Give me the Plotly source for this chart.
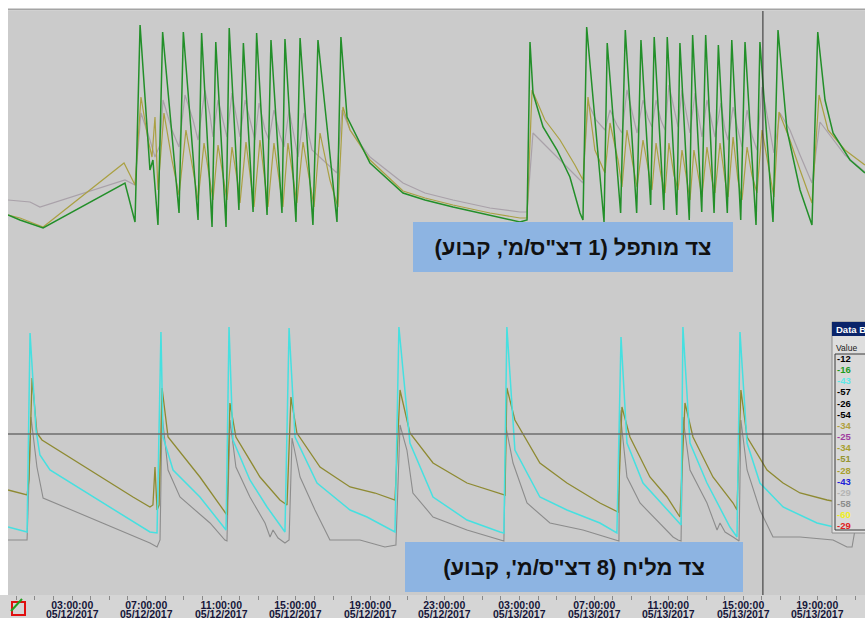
import pandas as pd
import plotly.graph_objects as go

BASE = pd.Timestamp("2017-05-12 00:00")

# ---------------- data (hours since 05/12/2017 00:00, values in panel units) -------------
TOP_GREEN_H = [-0.43, 0.21, 1.45, 5.84, 6.38, 6.65, 7.18, 7.34, 7.61, 7.86, 8.74, 8.97, 9.76, 9.95, 10.51, 10.71,
               11.26, 11.43, 11.95, 12.19, 12.71, 12.90, 13.46, 13.67, 14.26, 14.42, 15.01, 15.23, 15.92, 16.19,
               17.21, 17.42, 17.75, 18.98, 20.75, 21.93, 23.43, 25.41, 27.02, 27.40, 27.56, 27.72, 28.26, 29.01,
               29.70, 30.24, 30.40, 30.60, 31.53, 31.70, 32.42, 32.67, 33.28, 33.51, 34.03, 34.22, 34.74, 34.92,
               35.43, 35.60, 36.10, 36.28, 36.77, 36.98, 37.43, 37.66, 38.14, 38.38, 38.86, 39.09, 39.68, 39.89,
               40.59, 40.86, 41.34, 42.04, 42.68, 42.99, 43.38, 43.81, 44.72, 45.52]
TOP_GREEN_V = [12.5, 10, 6, 28.5, 9, 107.5, 35, 40, 7.5, 104, 13.5, 104, 10, 103.5, 6.5, 99,
               6.5, 106, 15, 98.5, 14, 103.5, 12.5, 100, 13.5, 100.5, 9, 101, 7.5, 100,
               9, 101.5, 61.5, 38.5, 23.5, 20, 16.5, 12.5, 9, 10, 99, 73.5, 56.5, 45,
               31.5, 13.5, 10, 106.5, 9, 98.5, 13.5, 105, 13.5, 100, 17.5, 101.5, 15, 101.5,
               12.5, 98.5, 10, 102.5, 14, 102.5, 13.5, 97.5, 13.5, 100, 10, 99, 7.5, 99,
               9, 105, 55, 25, 7.5, 104, 70, 53.5, 40, 33.5]

TOP_OLIVE_H = [-0.43, 0.21, 1.45, 5.79, 6.38, 6.70, 7.08, 7.29, 7.45, 7.61,
               7.93, 8.36, 8.74, 9.11, 9.49, 9.76, 10.08, 10.40, 10.56, 10.83,
               11.15, 11.31, 11.58, 11.90, 12.01, 12.33, 12.65, 12.76, 13.08, 13.35,
               13.51, 13.83, 14.15, 14.31, 14.58, 14.90, 15.06, 15.39, 15.76, 15.98,
               16.30, 16.83, 17.26, 17.53, 17.91, 18.98, 20.75, 21.93, 23.43, 25.41,
               27.02, 27.40, 27.67, 28.36, 29.17, 29.97, 30.40, 30.67, 31.04, 31.58,
               31.85, 32.28, 32.49, 32.76, 33.08, 33.30, 33.62, 33.89, 34.10, 34.32,
               34.58, 34.80, 35.01, 35.28, 35.50, 35.71, 35.98, 36.14, 36.35, 36.62,
               36.78, 37.05, 37.32, 37.48, 37.75, 38.02, 38.18, 38.45, 38.71, 38.93,
               39.20, 39.46, 39.73, 40.00, 40.32, 40.64, 40.91, 41.50, 42.04, 42.68,
               43.06, 43.54, 44.45, 45.52]
TOP_OLIVE_V = [12.5, 11, 6.5, 38.5, 27.5, 71.5, 50, 41.5, 61.5, 25,
               63.5, 40, 22.5, 55, 35, 20, 48.5, 30, 20, 47.5,
               27.5, 20, 46.5, 27.5, 18.5, 49, 25, 16.5, 50, 27.5,
               16.5, 48.5, 27.5, 16.5, 48.5, 27.5, 18.5, 49, 27.5, 16.5,
               53.5, 30, 16.5, 66.5, 55, 40, 24.5, 21, 17.5, 13.5,
               11, 11, 75, 60, 50, 37.5, 30, 71.5, 45, 33.5,
               58.5, 40, 26.5, 55, 37.5, 26.5, 50, 35, 25, 48.5,
               32.5, 23.5, 48.5, 32.5, 25, 45, 30, 20, 45, 30,
               21.5, 46.5, 30, 23.5, 48.5, 30, 21.5, 51.5, 30, 20,
               46.5, 32.5, 23.5, 55, 37.5, 21.5, 64, 50, 35, 18.5,
               72.5, 55, 45, 37.5]

TOP_GRAY_H = [-0.43, 0.75, 1.28, 5.84, 6.38, 6.70, 7.18, 7.45, 7.72, 7.88,
              8.36, 8.74, 9.06, 9.49, 9.76, 10.13, 10.40, 10.56, 10.83, 11.15,
              11.31, 11.58, 11.90, 12.01, 12.28, 12.65, 12.81, 13.03, 13.35, 13.56,
              13.83, 14.15, 14.37, 14.64, 14.96, 15.12, 15.44, 15.87, 17.21, 17.48,
              17.91, 18.98, 20.75, 21.93, 23.43, 25.41, 27.02, 27.40, 27.72, 28.36,
              29.17, 29.97, 30.40, 30.67, 31.10, 31.58, 31.85, 32.22, 32.49, 32.76,
              33.08, 33.30, 33.62, 33.89, 34.10, 34.32, 34.58, 34.80, 35.01, 35.28,
              35.50, 35.71, 35.98, 36.14, 36.41, 36.62, 36.78, 37.05, 37.32, 37.48,
              37.80, 38.02, 38.18, 38.45, 38.71, 38.93, 39.20, 39.46, 39.73, 40.00,
              40.32, 40.64, 40.97, 41.50, 42.04, 42.68, 43.11, 43.65, 44.45, 45.52]
TOP_GRAY_V = [20, 19, 16.5, 30, 27.5, 63.5, 50, 41.5, 47.5, 70,
              55, 46.5, 72.5, 60, 50, 75, 62.5, 51.5, 70, 57.5,
              51.5, 73.5, 57.5, 51.5, 70, 55, 50, 68.5, 55, 50,
              65, 52.5, 46.5, 65, 50, 41.5, 63.5, 45, 33.5, 65,
              55, 41.5, 28.5, 23.5, 20, 16, 14, 14, 53.5, 47.5,
              40, 32.5, 28.5, 68.5, 60, 55, 65, 57.5, 53.5, 75,
              62.5, 53.5, 70, 61, 56.5, 70, 60, 55, 77.5, 65,
              56.5, 75, 62.5, 53.5, 73.5, 60, 51.5, 70, 57.5, 51.5,
              68.5, 55, 50, 66.5, 55, 46.5, 65, 52.5, 45, 76.5,
              60, 43.5, 63.5, 55, 42.5, 28.5, 59, 52.5, 42.5, 34]

BOT_CYAN_H = [-0.43, 0.59, 0.75, 1.07, 1.28, 1.82, 7.18, 7.56, 7.77, 7.88,
              8.42, 9.86, 11.26, 11.42, 11.63, 12.54, 13.46, 14.42, 14.64, 14.96,
              16.14, 17.91, 18.82, 20.32, 20.53, 21.12, 22.36, 24.18, 25.95, 26.16,
              26.32, 26.75, 28.09, 29.54, 31.31, 32.22, 32.44, 32.76, 33.62, 34.91,
              35.66, 35.76, 36.14, 37.05, 38.28, 38.66, 38.82, 39.20, 39.89, 41.13,
              42.95, 44.56, 44.83, 45.15, 45.52]
BOT_CYAN_V = [16.5, 14, 113.5, 65, 52.5, 45, 14, 13.5, 114, 61.5,
              45, 31.5, 15, 116.5, 60, 40, 26.5, 14, 116, 61.5,
              38.5, 25, 21.5, 14, 116.5, 58.5, 31.5, 20, 14, 13.5,
              116.5, 55, 31.5, 25, 18.5, 13.5, 111.5, 58.5, 38.5, 25,
              17.5, 116.5, 58.5, 38.5, 16.5, 11.5, 114, 58.5, 38.5, 26.5,
              18.5, 15, 14, 35, 45]

BOT_OLIVE_H = [-0.43, 0.59, 0.69, 0.86, 1.12, 1.39, 6.27, 7.18, 7.34, 7.45,
               7.56, 7.67, 7.83, 8.15, 9.86, 11.31, 11.47, 11.79, 13.08, 14.15,
               14.53, 14.74, 15.06, 16.30, 17.91, 19.25, 20.32, 20.59, 21.12, 22.36,
               24.18, 25.95, 26.22, 26.32, 26.75, 28.09, 29.54, 31.31, 32.28, 32.49,
               32.92, 33.99, 34.91, 35.60, 35.87, 36.30, 37.37, 38.45, 38.66, 38.87,
               39.20, 40.27, 41.13, 42.04, 43.49, 45.52]
BOT_OLIVE_V = [35, 32.5, 40, 91, 63.5, 60, 31.5, 26.5, 27.5, 46.5,
               25, 27.5, 86, 61.5, 41.5, 22.5, 78.5, 61.5, 41.5, 30,
               27.5, 81.5, 63.5, 46.5, 36.5, 33.5, 30, 85, 63.5, 48.5,
               38.5, 33.5, 32.5, 86, 70, 48.5, 38.5, 28.5, 24, 76.5,
               61.5, 41.5, 31.5, 21.5, 78.5, 61.5, 41.5, 28.5, 25, 85,
               61.5, 45, 38.5, 33.5, 30, 26.5]

BOT_GRAY_H = [-0.43, 0.59, 0.80, 1.12, 1.45, 7.18, 7.56, 7.72, 7.83, 8.15,
              8.79, 10.40, 11.20, 11.31, 11.47, 11.79, 12.54, 13.35, 13.62, 13.78,
              14.05, 14.42, 14.64, 14.80, 15.23, 16.03, 16.83, 18.44, 19.78, 20.37,
              20.59, 20.96, 21.28, 22.36, 24.18, 25.95, 26.16, 26.27, 26.65, 27.40,
              28.63, 30.40, 32.22, 32.33, 32.38, 32.76, 33.46, 34.53, 35.23, 35.50,
              35.66, 35.76, 36.14, 37.05, 37.59, 37.75, 38.02, 38.45, 38.66, 38.77,
              38.87, 39.20, 39.89, 40.59, 42.04, 43.81, 44.56, 44.83, 45.26, 45.52]
BOT_GRAY_V = [10, 10, 71.5, 46.5, 31, 8.5, 6.5, 10, 72.5, 45,
              31.5, 18.5, 10, 9.5, 70, 46.5, 31.5, 18.5, 11.5, 15,
              11, 8.5, 10, 61, 41.5, 25, 10, 10, 6.5, 7.5,
              67.5, 55, 33.5, 21.5, 15, 10, 9.5, 66.5, 48.5, 28.5,
              18.5, 15, 10, 9.5, 75, 41.5, 28.5, 18.5, 11.5, 10,
              9.5, 71.5, 45, 28.5, 15, 18.5, 14, 11.5, 10, 9.5,
              70, 45, 25, 11.5, 11.5, 10, 6.5, 6.5, 30, 37.5]

TICK_H = [3, 7, 11, 15, 19, 23, 27, 31, 35, 39, 43]
TICK_TIME = ["03:00:00", "07:00:00", "11:00:00", "15:00:00", "19:00:00", "23:00:00",
             "03:00:00", "07:00:00", "11:00:00", "15:00:00", "19:00:00"]
TICK_DATE = ["05/12/2017"] * 6 + ["05/13/2017"] * 5

CURSOR_H = 40.05          # vertical cursor time
THRESHOLD_BOT = 63        # horizontal reference line in lower panel
X_RANGE_H = [-0.432, 45.524]

TOP_LABEL = 'צד מותפל (1 דצ"ס/מ\', קבוע)'
BOT_LABEL = 'צד מליח (8 דצ"ס/מ\', קבוע)'

DATA_BOX_VALUES = ["-12", "-16", "-43", "-57", "-26", "-54", "-34", "-25",
                   "-34", "-51", "-28", "-43", "-29", "-58", "-60", "-29"]
DATA_BOX_COLORS = ["#000000", "#1e9a1e", "#5ee8e8", "#000000", "#000000", "#000000",
                   "#b0a040", "#a03ca0", "#a8a030", "#949430", "#a8a030", "#2020d8",
                   "#b4b4b4", "#8c8c8c", "#f0f020", "#e02020"]


def to_time(hours):
    return BASE + pd.to_timedelta(hours, unit="h")


fig = go.Figure()

top_series = [
    (TOP_GRAY_H, TOP_GRAY_V, "#a9a1a9", 1.2),
    (TOP_OLIVE_H, TOP_OLIVE_V, "#aaa042", 1.2),
    (TOP_GREEN_H, TOP_GREEN_V, "#228f29", 1.5),
]
for h, v, c, w in top_series:
    fig.add_trace(go.Scatter(x=to_time(h), y=v, mode="lines", yaxis="y",
                             line=dict(color=c, width=w), hoverinfo="skip", showlegend=False))

bot_series = [
    (BOT_GRAY_H, BOT_GRAY_V, "#8c8c8c", 1.1),
    (BOT_OLIVE_H, BOT_OLIVE_V, "#8e8a32", 1.3),
    (BOT_CYAN_H, BOT_CYAN_V, "#46e0e0", 1.5),
]
for h, v, c, w in bot_series:
    fig.add_trace(go.Scatter(x=to_time(h), y=v, mode="lines", yaxis="y2",
                             line=dict(color=c, width=w), hoverinfo="skip", showlegend=False))

W, H = 865, 618
ML, MR, MT, MB = 8, 0, 11, 23
PW, PH = W - ML - MR, H - MT - MB


def px_x(px):
    return (px - ML) / PW


def px_y(py):
    return (H - MB - py) / PH


shapes = []
# time axis strip
shapes.append(dict(type="rect", xref="paper", yref="paper", x0=px_x(0), x1=1.0,
                   y0=px_y(H + 2), y1=0, fillcolor="#d5d5d5", line=dict(width=0), layer="below"))
# top border line
shapes.append(dict(type="line", xref="paper", yref="paper", x0=0, x1=1,
                   y0=px_y(9.5), y1=px_y(9.5), line=dict(color="#a4a4a4", width=2)))
# horizontal reference line (lower panel)
shapes.append(dict(type="line", xref="paper", yref="y2", x0=0, x1=1,
                   y0=THRESHOLD_BOT, y1=THRESHOLD_BOT, line=dict(color="#6e6e6e", width=1.3)))
# cursor
shapes.append(dict(type="line", xref="x", yref="paper", x0=to_time(CURSOR_H), x1=to_time(CURSOR_H),
                   y0=0, y1=1, line=dict(color="#2a2a2a", width=1)))
# data box window
shapes.append(dict(type="rect", xref="paper", yref="paper", x0=px_x(832), x1=px_x(872),
                   y0=px_y(533), y1=px_y(322), fillcolor="#dedede", line=dict(color="#8c8c8c", width=1)))
shapes.append(dict(type="rect", xref="paper", yref="paper", x0=px_x(832), x1=px_x(872),
                   y0=px_y(336), y1=px_y(322), fillcolor="#0a246a", line=dict(width=0)))
shapes.append(dict(type="rect", xref="paper", yref="paper", x0=px_x(835), x1=px_x(872),
                   y0=px_y(530), y1=px_y(354), fillcolor="#d9d9d9", line=dict(color="#3a3a3a", width=1)))
# small status icon at bottom-left
shapes.append(dict(type="rect", xref="paper", yref="paper", x0=px_x(12), x1=px_x(25),
                   y0=px_y(615), y1=px_y(602), fillcolor="rgba(0,0,0,0)", line=dict(color="#e01010", width=2)))
shapes.append(dict(type="line", xref="paper", yref="paper", x0=px_x(11), x1=px_x(22),
                   y0=px_y(611), y1=px_y(599), line=dict(color="#20a020", width=2)))

annotations = []
tick_font = dict(family="Liberation Sans, Arial, sans-serif", size=7.2, color="#16163a")
span = "<span style='font-size:10.5px'><b>%s</b></span>"
for h, t1, t2 in zip(TICK_H, TICK_TIME, TICK_DATE):
    annotations.append(dict(x=to_time(h), xref="x", y=px_y(596.5), yref="paper",
                            text=(span % t1) + "<br>" + (span % t2), showarrow=False,
                            xanchor="center", yanchor="top", font=tick_font))

label_font = dict(family="Liberation Sans, Arial, sans-serif", size=22, color="#111111")
annotations.append(dict(x=px_x(573), y=px_y(247), xref="paper", yref="paper",
                        text="<b>\u202b" + TOP_LABEL + "\u202c</b>", showarrow=False,
                        width=320, height=50, bgcolor="#8db4e2", borderpad=0, borderwidth=0,
                        xanchor="center", yanchor="middle", font=label_font))
annotations.append(dict(x=px_x(574), y=px_y(567), xref="paper", yref="paper",
                        text="<b>\u202b" + BOT_LABEL + "\u202c</b>", showarrow=False,
                        width=338, height=50, bgcolor="#8db4e2", borderpad=0, borderwidth=0,
                        xanchor="center", yanchor="middle", font=label_font))

# data box texts
annotations.append(dict(x=px_x(834), y=px_y(329), xref="paper", yref="paper", text="<b>Data Box</b>",
                        showarrow=False, xanchor="left", yanchor="middle",
                        font=dict(family="Liberation Sans, Arial, sans-serif", size=9.5, color="#ffffff")))
annotations.append(dict(x=px_x(834), y=px_y(348), xref="paper", yref="paper", text="Value",
                        showarrow=False, xanchor="left", yanchor="middle",
                        font=dict(family="Liberation Sans, Arial, sans-serif", size=8.5, color="#202020")))
for i, (val, col) in enumerate(zip(DATA_BOX_VALUES, DATA_BOX_COLORS)):
    annotations.append(dict(x=px_x(835), y=px_y(358.5 + i * 11.15), xref="paper", yref="paper",
                            text="<b>%s</b>" % val, showarrow=False, xanchor="left", yanchor="middle",
                            font=dict(family="Liberation Sans, Arial, sans-serif", size=9.5, color=col)))

fig.update_layout(
    width=W, height=H,
    margin=dict(l=ML, r=MR, t=MT, b=MB, pad=0),
    paper_bgcolor="#ffffff",
    plot_bgcolor="#cbcbcb",
    showlegend=False,
    xaxis=dict(type="date", range=list(to_time(X_RANGE_H)), showgrid=False, zeroline=False,
               showticklabels=False, ticks="outside", ticklen=4, tickwidth=1, tickcolor="#8a8a8a",
               dtick=3600000, tick0=to_time(0), showline=False, fixedrange=True),
    yaxis=dict(domain=[0, 1], range=[-177.5, 114.5], visible=False, fixedrange=True),
    yaxis2=dict(domain=[0, 1], range=[-17.5, 274.5], overlaying="y", visible=False, fixedrange=True),
    shapes=shapes,
    annotations=annotations,
)

fig.write_html("out.html")
